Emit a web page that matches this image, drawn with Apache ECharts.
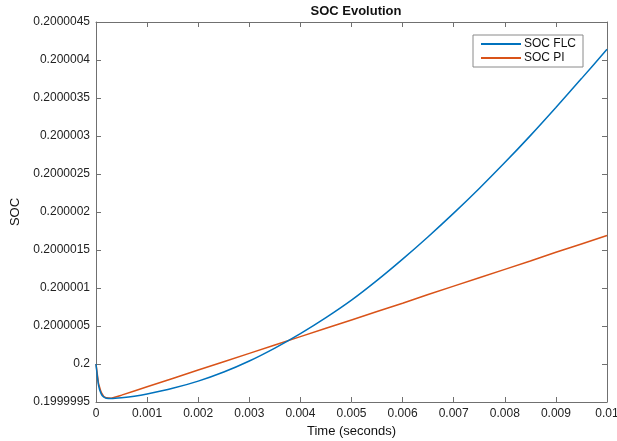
<!DOCTYPE html>
<html>
<head>
<meta charset="utf-8">
<title>SOC Evolution</title>
<script src="https://cdn.jsdelivr.net/npm/echarts@6/dist/echarts.min.js"></script>
<style>
    html, body { margin: 0; padding: 0; background: #fff; }
    #soc_chart { width: 617px; height: 441px; }
</style>
</head>
<body>
<div id="soc_chart"></div>
<script>
// time samples (s)
const timeS = [0, 0.00005, 0.0001, 0.00015, 0.0002, 0.0003, 0.0005, 0.00075, 0.001, 0.0015,
    0.002, 0.0025, 0.003, 0.0035, 0.004, 0.0045, 0.005, 0.0055, 0.006, 0.0065,
    0.007, 0.0075, 0.008, 0.0085, 0.009, 0.0095, 0.01];
// SOC FLC (blue)
const socFLC = [0.2, 0.19999972, 0.19999961, 0.199999565, 0.19999955, 0.199999545, 0.199999555,
    0.199999575, 0.199999605, 0.19999968, 0.199999775, 0.199999895, 0.20000004, 0.20000021,
    0.2000004, 0.20000061, 0.20000084, 0.2000011, 0.20000138, 0.200001675, 0.200001985,
    0.20000231, 0.20000265, 0.200003005, 0.200003375, 0.200003755, 0.20000414];
// SOC PI (orange)
const socPI = [0.2, 0.19999974, 0.19999963, 0.199999575, 0.199999555, 0.19999955, 0.19999959,
    0.199999645, 0.1999997, 0.19999981, 0.19999992, 0.20000003, 0.20000014, 0.20000025,
    0.20000036, 0.20000047, 0.20000058, 0.20000069, 0.2000008, 0.200000915, 0.200001025,
    0.200001135, 0.200001245, 0.200001355, 0.20000147, 0.20000158, 0.20000169];

const seriesNames = ['SOC FLC', 'SOC PI'];
const seriesColors = ['#0072BD', '#D95319'];

const pairs = (ys) => timeS.map((t, i) => [t, ys[i]]);

const chart = echarts.init(document.getElementById('soc_chart'));
const fontFam = '"Liberation Sans", Arial, Helvetica, sans-serif';
const axisGrey = '#707070';

const baseAxis = {
    axisLine: { show: true, onZero: false, lineStyle: { color: axisGrey, width: 1 } },
    axisTick: { show: true, inside: true, length: 5, lineStyle: { color: axisGrey } },
    splitLine: { show: false }
};

const option = {
    animation: false,
    textStyle: { fontFamily: fontFam },
    title: {
        text: 'SOC Evolution',
        left: 351,
        top: 0,
        textAlign: 'center',
        textStyle: { fontSize: 13, fontWeight: 'bold', color: '#111', fontFamily: fontFam }
    },
    legend: {
        orient: 'vertical',
        left: 473,
        top: 35,
        data: seriesNames,
        icon: 'rect',
        itemWidth: 40,
        itemHeight: 2,
        itemGap: 2,
        padding: [3, 7, 3, 8],
        borderColor: '#8a8a8a',
        borderWidth: 1,
        backgroundColor: '#fff',
        textStyle: { fontSize: 12, color: '#111', fontFamily: fontFam, padding: [0, 0, 0, -2] }
    },
    grid: { left: 96, right: 10, top: 22, bottom: 39, containLabel: false, outerBoundsMode: 'none' },
    xAxis: [{
        ...baseAxis,
        type: 'value',
        min: 0,
        max: 0.01,
        interval: 0.001,
        name: 'Time (seconds)',
        nameLocation: 'middle',
        nameGap: 23,
        nameTextStyle: { fontSize: 13, color: '#111' },
        axisLabel: {
            margin: 6,
            fontSize: 12,
            color: '#222',
            formatter: (v) => String(Number(v.toFixed(4)))
        }
    }, {
        ...baseAxis,
        type: 'value',
        position: 'top',
        min: 0,
        max: 0.01,
        interval: 0.001,
        axisLabel: { show: false }
    }],
    yAxis: [{
        ...baseAxis,
        type: 'value',
        min: 0.1999995,
        max: 0.2000045,
        interval: 0.0000005,
        name: 'SOC',
        nameLocation: 'middle',
        nameGap: 74,
        nameTextStyle: { fontSize: 13, color: '#111' },
        axisLabel: {
            margin: 6,
            fontSize: 12,
            color: '#222',
            formatter: (v) => String(Number(v.toFixed(8)))
        }
    }, {
        ...baseAxis,
        type: 'value',
        position: 'right',
        min: 0.1999995,
        max: 0.2000045,
        interval: 0.0000005,
        axisLabel: { show: false }
    }],
    series: seriesNames.map((name, i) => ({
        name: name,
        type: 'line',
        data: pairs(i === 0 ? socFLC : socPI),
        showSymbol: false,
        symbol: 'none',
        smooth: i === 0 ? 0.25 : false,
        color: seriesColors[i],
        lineStyle: { width: 1.5, color: seriesColors[i] },
        xAxisIndex: 0,
        yAxisIndex: 0,
        z: i === 0 ? 3 : 2
    }))
};

chart.setOption(option);
</script>
</body>
</html>
